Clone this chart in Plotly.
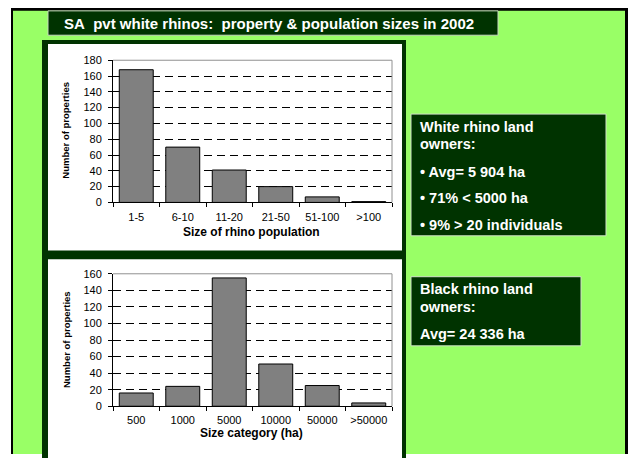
import plotly.graph_objects as go

# ---- data ----
pop_categories = ["1-5", "6-10", "11-20", "21-50", "51-100", ">100"]
pop_counts = [168, 70, 41, 20, 7, 1]
size_categories = ["500", "1000", "5000", "10000", "50000", ">50000"]
size_counts = [16, 24, 155, 51, 25, 4]

title_text = "SA\u00a0 pvt white rhinos:\u00a0 property & population sizes in 2002"
white_box_lines = ["White rhino land", "owners:", "\u2022 Avg= 5 904 ha",
                   "\u2022 71% < 5000 ha", "\u2022 9% > 20 individuals"]
black_box_lines = ["Black rhino land", "owners:", "Avg= 24 336 ha"]

W, H = 631, 458
GREEN = "#99FF66"
DARK = "#003300"
FONT = "Arial, Liberation Sans, sans-serif"


def px(x):
    return x / W


def py(y):
    return 1 - y / H


shapes = []


def rect(x0, y0, x1, y1, fill, line_color=None, lw=0, layer="below"):
    shapes.append(dict(type="rect", xref="paper", yref="paper",
                       x0=px(x0), x1=px(x1), y0=py(y1), y1=py(y0),
                       fillcolor=fill,
                       line=dict(color=line_color or fill, width=lw),
                       layer=layer))


# slide background with black frame
rect(0, 0, 631, 458, "white")
rect(11, 2, 628, 460, "black")
rect(13, 5, 625, 460, GREEN)
# title box
rect(48, 5, 498, 30, DARK, "#c8d8c0", 1)
# chart frame
rect(42, 35, 406, 470, DARK)
rect(48, 39, 402, 251, "white")
rect(48, 260, 402, 470, "white")
# side boxes
rect(411, 111, 606, 236, DARK, "#d0e0c8", 1)
rect(411, 278, 581, 349, DARK, "#d0e0c8", 1)

# plot-area top/right borders (gray)
for xa, ya in (("x", "y"), ("x2", "y2")):
    shapes.append(dict(type="line", xref=xa + " domain", yref=ya + " domain",
                       x0=0, x1=1, y0=1, y1=1, line=dict(color="#909090", width=1),
                       layer="above"))
    shapes.append(dict(type="line", xref=xa + " domain", yref=ya + " domain",
                       x0=1, x1=1, y0=0, y1=1, line=dict(color="#909090", width=1),
                       layer="above"))

annotations = []


def text(x, y, s, size, bold=True, color="white", xanchor="left", angle=0):
    annotations.append(dict(xref="paper", yref="paper", x=px(x), y=py(y),
                            text=("<b>%s</b>" % s) if bold else s,
                            showarrow=False, xanchor=xanchor, yanchor="middle",
                            textangle=angle,
                            font=dict(family=FONT, size=size, color=color)))


text(62, 17.5, title_text, 15)
for s, y in zip(white_box_lines, [124, 142, 170, 197, 225]):
    text(418, y, s, 14.5)
for s, y in zip(black_box_lines, [291, 309, 337]):
    text(418, y, s, 14.5)

# axis titles
text(252, 232, "Size of rhino population", 12, color="black", xanchor="center")
text(252, 439, "Size category (ha)", 12, color="black", xanchor="center")
text(66, 128, "Number of properties", 9.5, color="black", xanchor="center", angle=-90)
text(66, 343, "Number of properties", 9.5, color="black", xanchor="center", angle=-90)

bar_style = dict(color="#808080", line=dict(color="black", width=1))

fig = go.Figure()
fig.add_trace(go.Bar(x=pop_categories, y=pop_counts, xaxis="x", yaxis="y",
                     marker=bar_style, showlegend=False, hoverinfo="x+y"))
fig.add_trace(go.Bar(x=size_categories, y=size_counts, xaxis="x2", yaxis="y2",
                     marker=bar_style, showlegend=False, hoverinfo="x+y"))

xdom = [px(113), px(392)]
common_x = dict(showline=True, linecolor="black", linewidth=1, ticks="outside",
                tickson="boundaries", ticklen=4, tickcolor="black",
                ticklabelstandoff=4,
                showgrid=False, tickfont=dict(family=FONT, size=11, color="black"),
                fixedrange=True)
common_y = dict(showline=True, linecolor="black", linewidth=1, ticks="outside",
                ticklen=4, tickcolor="black", dtick=20, zeroline=False,
                ticklabelstandoff=4,
                showgrid=True, gridcolor="black", gridwidth=1, griddash="8px,5px",
                tickfont=dict(family=FONT, size=11, color="black"), fixedrange=True)

fig.update_layout(
    width=W, height=H,
    margin=dict(l=0, r=0, t=0, b=0),
    paper_bgcolor="white",
    plot_bgcolor="white",
    bargap=0.27,
    xaxis=dict(domain=xdom, anchor="y", **common_x),
    yaxis=dict(domain=[py(201.7), py(55.7)], anchor="x", range=[0, 180], **common_y),
    xaxis2=dict(domain=xdom, anchor="y2", **common_x),
    yaxis2=dict(domain=[py(411), py(275)], anchor="x2", range=[0, 160], **common_y),
    shapes=shapes,
    annotations=annotations,
)

fig.write_html("out.html", config={"displayModeBar": False},
               post_script="document.body.style.margin='0';")
